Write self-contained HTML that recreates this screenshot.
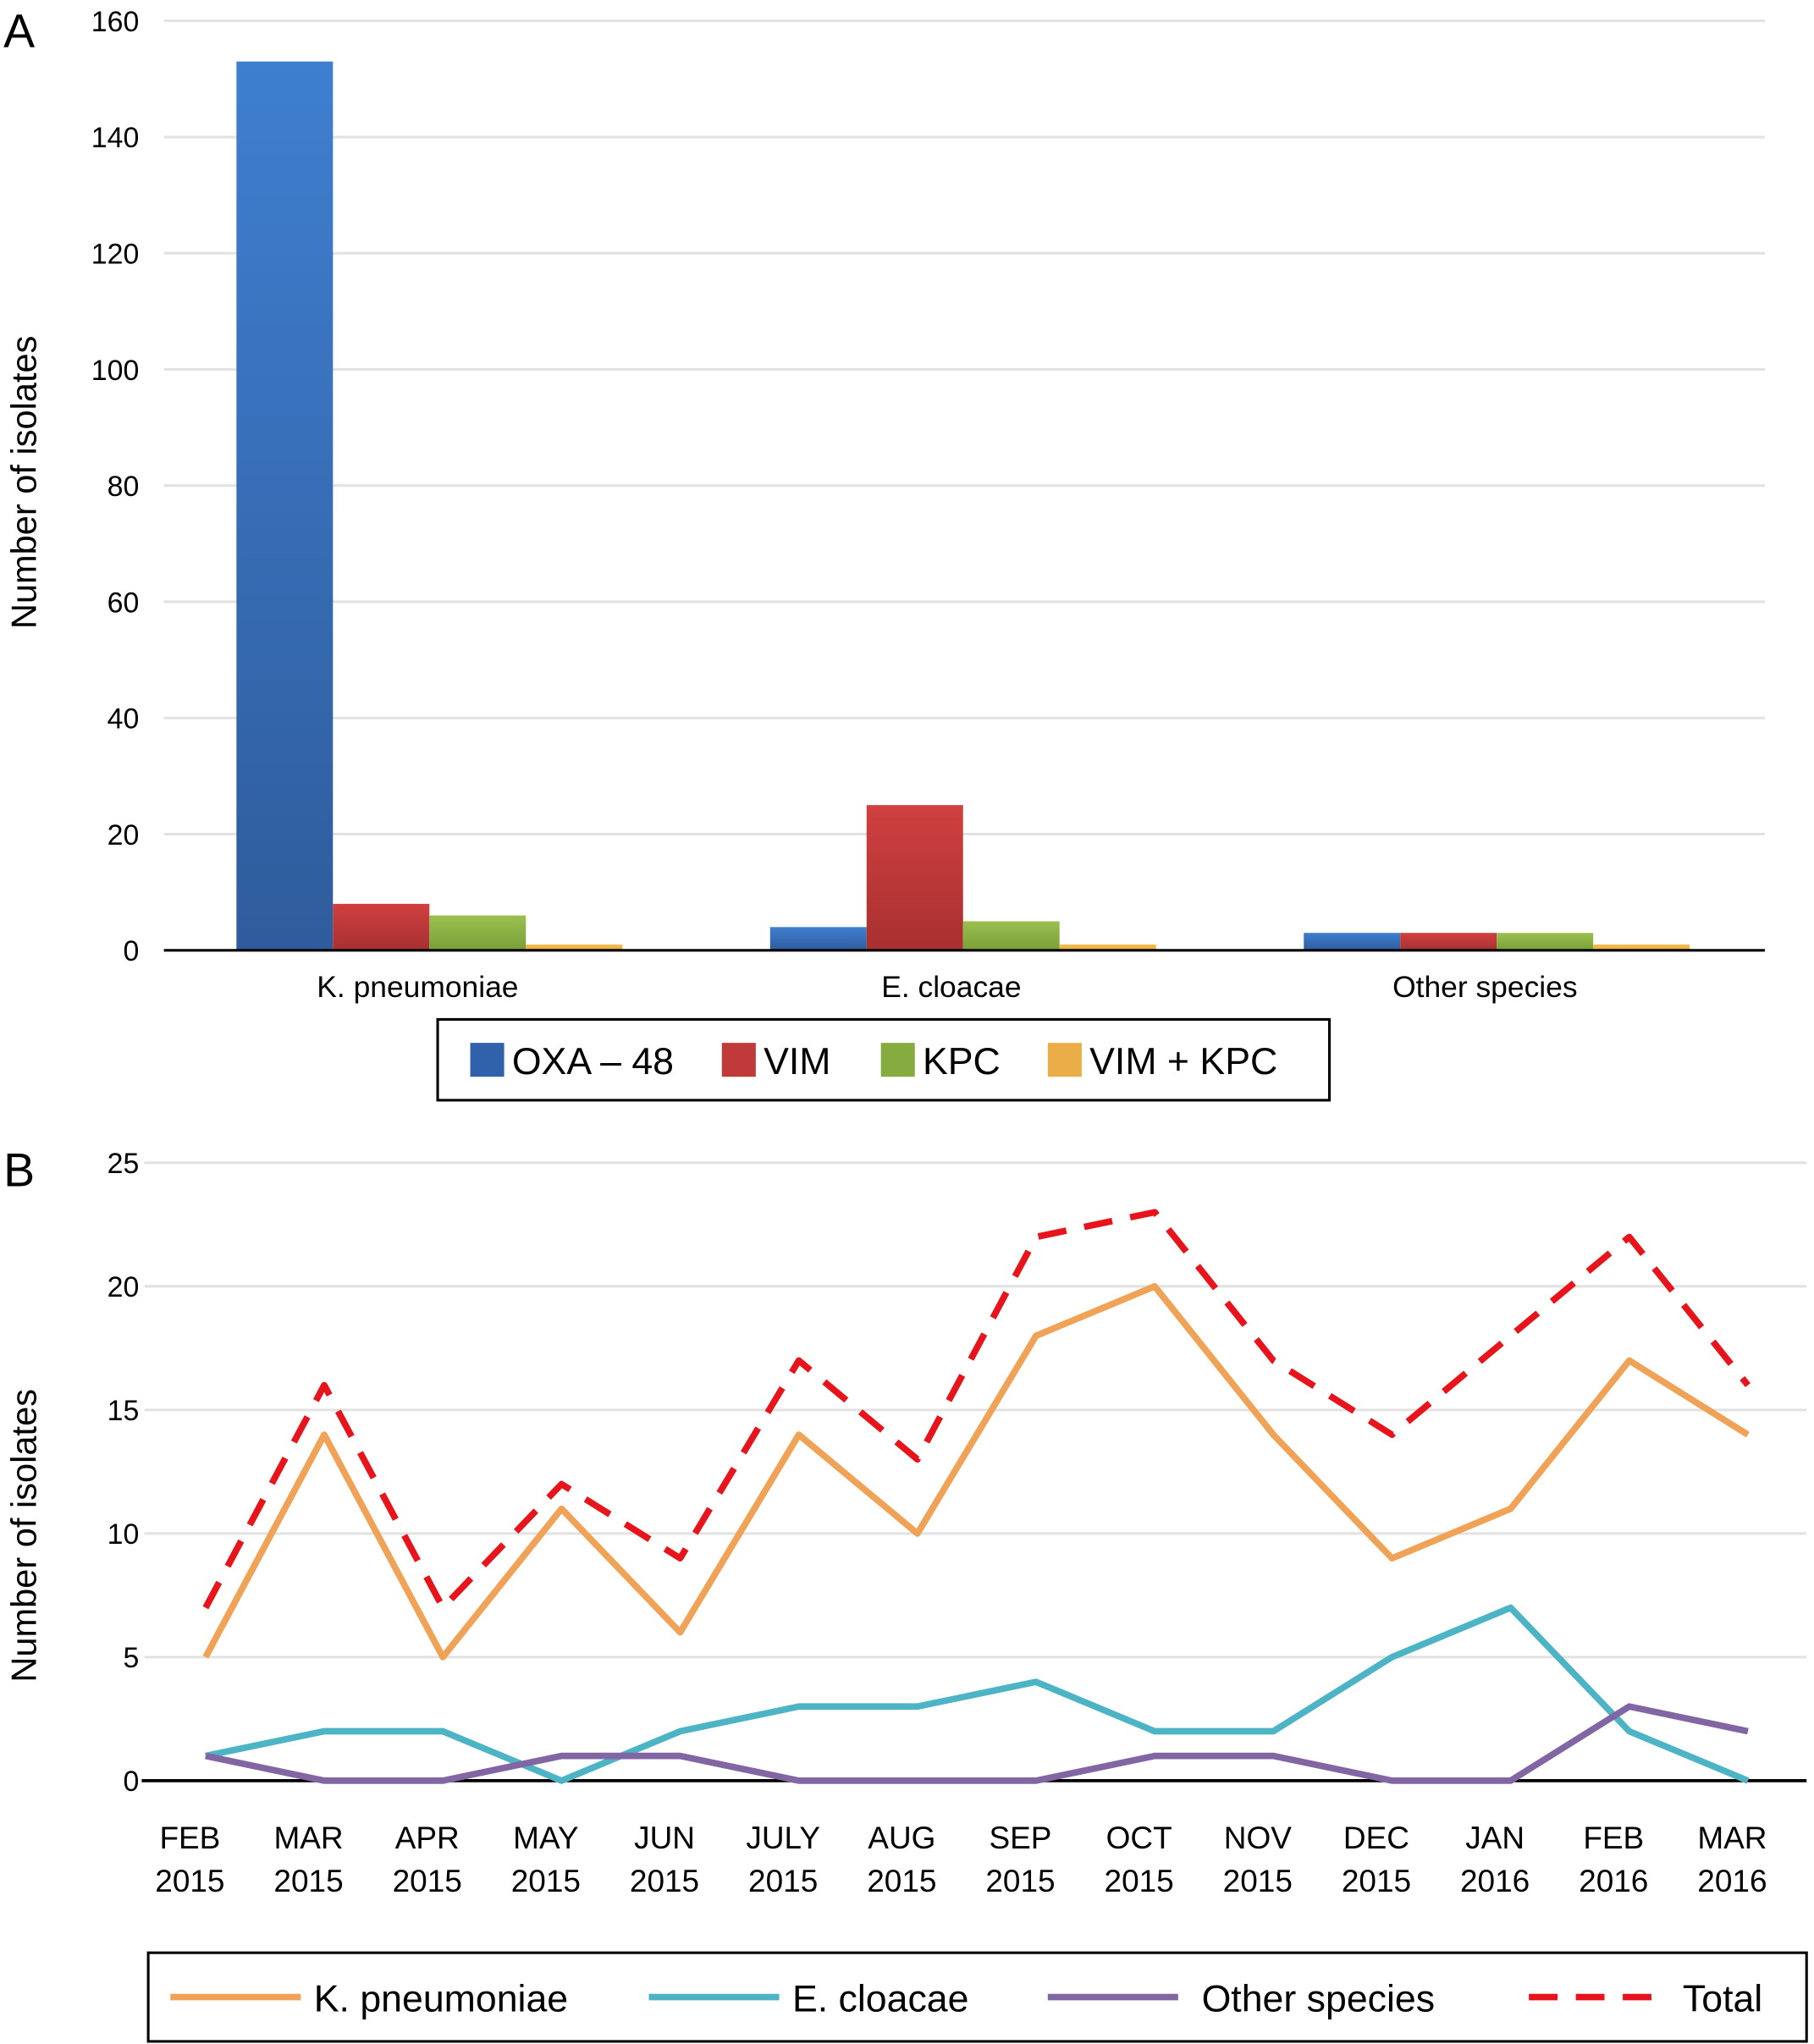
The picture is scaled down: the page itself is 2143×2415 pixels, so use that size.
<!DOCTYPE html>
<html><head><meta charset="utf-8"><style>
html,body{margin:0;padding:0;background:#fff}
svg{display:block}
text{font-family:"Liberation Sans",Arial,sans-serif;fill:#000}
</style></head><body>
<svg id="chart" width="2143" height="2415" viewBox="0 0 1390 1568" xmlns="http://www.w3.org/2000/svg">
<defs>
<linearGradient id="gBlue" x1="0" y1="0" x2="0" y2="1"><stop offset="0" stop-color="#3f7fd0"/><stop offset="1" stop-color="#2f5c9c"/></linearGradient>
<linearGradient id="gRed" x1="0" y1="0" x2="0" y2="1"><stop offset="0" stop-color="#d04040"/><stop offset="1" stop-color="#a83030"/></linearGradient>
<linearGradient id="gGreen" x1="0" y1="0" x2="0" y2="1"><stop offset="0" stop-color="#9cc050"/><stop offset="1" stop-color="#78a038"/></linearGradient>
<linearGradient id="gYel" x1="0" y1="0" x2="0" y2="1"><stop offset="0" stop-color="#f6c050"/><stop offset="1" stop-color="#e8a838"/></linearGradient>
</defs>
<g id="panelA"></g>
<g id="panelB"></g>
</svg>
<script>
// Panel A data
const speciesA = ["K. pneumoniae","E. cloacae","Other species"];
const oxa48 = [153,4,3];
const vim = [8,25,3];
const kpc = [6,5,3];
const vimKpc = [1,1,1];
const ticksA = [0,20,40,60,80,100,120,140,160];
const seriesNamesA = ["OXA – 48","VIM","KPC","VIM + KPC"];

// Panel B data
const months = [["FEB","2015"],["MAR","2015"],["APR","2015"],["MAY","2015"],["JUN","2015"],["JULY","2015"],["AUG","2015"],["SEP","2015"],["OCT","2015"],["NOV","2015"],["DEC","2015"],["JAN","2016"],["FEB","2016"],["MAR","2016"]];
const kpn = [5,14,5,11,6,14,10,18,20,14,9,11,17,14];
const ecl = [1,2,2,0,2,3,3,4,2,2,5,7,2,0];
const other = [1,0,0,1,1,0,0,0,1,1,0,0,3,2];
const total = [7,16,7,12,9,17,13,22,23,17,14,18,22,16];
const ticksB = [0,5,10,15,20,25];

const NS="http://www.w3.org/2000/svg";
function mk(parent,tag,attrs,txt){const e=document.createElementNS(NS,tag);for(const k in attrs)e.setAttribute(k,attrs[k]);if(txt!==undefined)e.textContent=txt;parent.appendChild(e);return e;}

// ---- Panel A ----
const A=document.getElementById('panelA');
const ax0=125, ax1=1353, ayB=729, ayT=16;
const yA=v=>ayB-(v/160)*(ayB-ayT);
let t=mk(A,'text',{x:2,y:36,'font-size':36});
t.textContent='A';
ticksA.forEach(v=>{
  if(v>0){let g=mk(A,'line',{x1:ax0,x2:ax1,y1:yA(v),y2:yA(v),stroke:'#e2e2e2','stroke-width':2});
  }
  let l=mk(A,'text',{x:106,y:yA(v)+8,'font-size':22,'text-anchor':'end'},String(v));
  
});
t=mk(A,'text',{transform:'translate(27,370) rotate(-90)','font-size':27,'text-anchor':'middle'},'Number of isolates');

const band=(ax1-ax0)/3, bw=74;
const seriesA=[oxa48,vim,kpc,vimKpc], fills=['url(#gBlue)','url(#gRed)','url(#gGreen)','url(#gYel)'];
speciesA.forEach((s,i)=>{
  const c=ax0+band*(i+0.5)-1;
  seriesA.forEach((arr,j)=>{
    const x=c-2*bw+j*bw;
    const r=mk(A,'rect',{x:x,y:yA(arr[i]),width:bw,height:ayB-yA(arr[i]),fill:fills[j]});
    
    
  });
  const l=mk(A,'text',{x:c-9,y:765,'font-size':23,'text-anchor':'middle'},s);
  
});
t=mk(A,'line',{x1:ax0,x2:ax1,y1:ayB,y2:ayB,stroke:'#000','stroke-width':2});

// legend A
const lgA=mk(A,'g',{});

mk(lgA,'rect',{x:335,y:782,width:684,height:62,fill:'#fff',stroke:'#000','stroke-width':2});
const lgx=[360,553,675,803], swc=['#2f62aa','#c03a3a','#86ac3f','#eaad48'];
seriesNamesA.forEach((n,j)=>{
  const sw=mk(lgA,'rect',{x:lgx[j],y:800,width:26,height:26,fill:swc[j]});
  
  const tx=mk(lgA,'text',{x:lgx[j]+32,y:824,'font-size':29},n);
  
});

// ---- Panel B ----
const B=document.getElementById('panelB');
const bx0=157, bx1=1340, byB=1366, byT=892;
const xB=i=>bx0+i*(bx1-bx0)/(months.length-1);
const yB=v=>byB-(v/25)*(byB-byT);
t=mk(B,'text',{x:2,y:910,'font-size':36},'B');

ticksB.forEach(v=>{
  if(v>0){let g=mk(B,'line',{x1:110,x2:1385,y1:yB(v),y2:yB(v),stroke:'#e2e2e2','stroke-width':2});
  }
  let l=mk(B,'text',{x:106,y:yB(v)+8,'font-size':22,'text-anchor':'end'},String(v));
  
});
t=mk(B,'text',{transform:'translate(27,1178) rotate(-90)','font-size':27,'text-anchor':'middle'},'Number of isolates');

t=mk(B,'line',{x1:108,x2:1385,y1:byB,y2:byB,stroke:'#000','stroke-width':2.5});

months.forEach((m,i)=>{
  const x=xB(i)-12;
  const a=mk(B,'text',{x:x,y:1418,'font-size':24,'text-anchor':'middle'},m[0]);
  
  const b=mk(B,'text',{x:x,y:1451,'font-size':24,'text-anchor':'middle'},m[1]);
  
});
function line(arr,color,name,dash){
  const d=arr.map((v,i)=>(i?'L':'M')+xB(i).toFixed(1)+','+yB(v).toFixed(1)).join(' ');
  const p=mk(B,'path',{d:d,fill:'none',stroke:color,'stroke-width':5,'stroke-linejoin':'round'});
  if(dash)p.setAttribute('stroke-dasharray','22,14');
  
  
}
line(kpn,'#f0a257','line-k-pneumoniae');
line(ecl,'#4db4c6','line-e-cloacae');
line(other,'#8266a4','line-other-species');
line(total,'#e8141c','line-total',true);
// legend B
const lgB=mk(B,'g',{});

mk(lgB,'rect',{x:113,y:1498,width:1272,height:68,fill:'#fff',stroke:'#000','stroke-width':2});
const lb=[{x:130,c:'#f0a257',n:'K. pneumoniae',tx:240},{x:497,c:'#4db4c6',n:'E. cloacae',tx:607},{x:803,c:'#8266a4',n:'Other species',tx:921},{x:1172,c:'#e8141c',n:'Total',tx:1290,d:1}];
lb.forEach(o=>{
  const s=mk(lgB,'line',{x1:o.x,x2:o.x+100,y1:1532,y2:1532,stroke:o.c,'stroke-width':5});
  if(o.d)s.setAttribute('stroke-dasharray','22,14');
  
  const tx=mk(lgB,'text',{x:o.tx,y:1543,'font-size':29},o.n);
  
});
</script>
</body></html>
